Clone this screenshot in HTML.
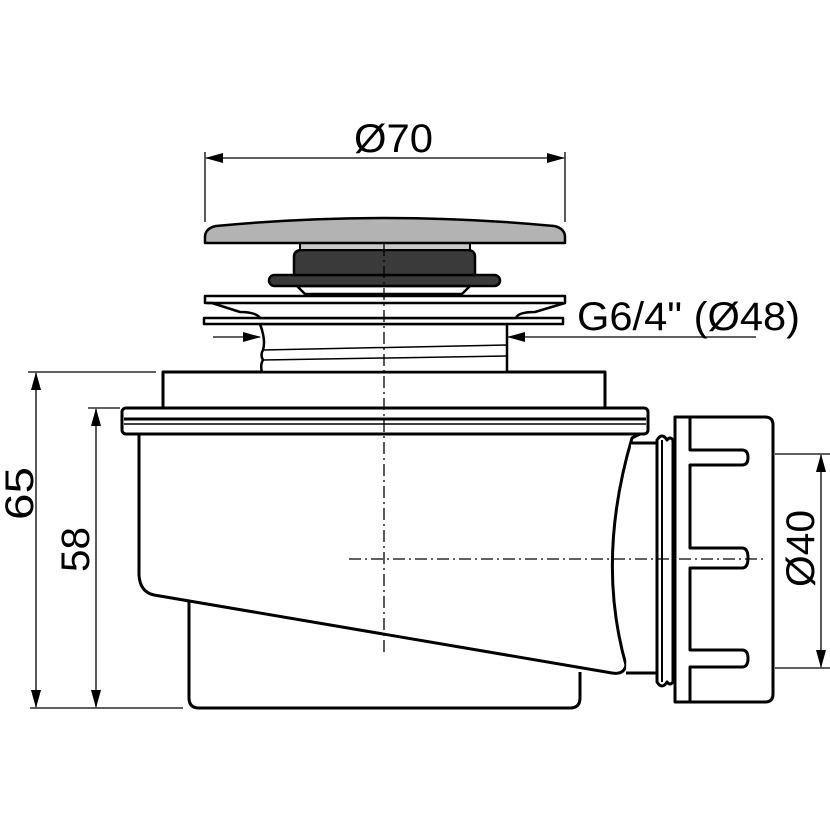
<!DOCTYPE html>
<html><head><meta charset="utf-8"><style>html,body{margin:0;padding:0;background:#fff}svg{display:block}</style></head>
<body>
<svg width="830" height="830" viewBox="0 0 830 830" xmlns="http://www.w3.org/2000/svg">
<defs>
<marker id="a" markerWidth="18" markerHeight="10" refX="17" refY="5" orient="auto" markerUnits="userSpaceOnUse"><path d="M0,0 L18,5 L0,10 Z" fill="#000"/></marker>
<marker id="b" markerWidth="18" markerHeight="10" refX="1" refY="5" orient="auto" markerUnits="userSpaceOnUse"><path d="M18,0 L0,5 L18,10 Z" fill="#000"/></marker>
</defs>
<g font-family="Liberation Sans, sans-serif" font-size="40" fill="#000">
<text x="354" y="152" textLength="79" lengthAdjust="spacingAndGlyphs">Ø70</text>
<text x="577" y="330" textLength="223" lengthAdjust="spacingAndGlyphs">G6/4" (Ø48)</text>
<text transform="translate(33,520) rotate(-90)" textLength="53" lengthAdjust="spacingAndGlyphs">65</text>
<text transform="translate(89,572) rotate(-90)" textLength="45" lengthAdjust="spacingAndGlyphs">58</text>
<text transform="translate(481,500) rotate(-90)" textLength="43" lengthAdjust="spacingAndGlyphs">29</text>
<text transform="translate(814,587) rotate(-90)" textLength="77" lengthAdjust="spacingAndGlyphs">Ø40</text>
</g>
<g stroke="#000" stroke-width="1.3" fill="none">
<!-- Ø70 -->
<line x1="205" y1="152" x2="205" y2="222"/><line x1="565" y1="152" x2="565" y2="222"/>
<line x1="206" y1="158" x2="564" y2="158" marker-start="url(#b)" marker-end="url(#a)"/>
<!-- G6/4 -->
<line x1="213" y1="337" x2="260" y2="337" marker-end="url(#a)"/>
<line x1="756" y1="337" x2="508" y2="337" marker-end="url(#a)"/>
<!-- 65 -->
<line x1="28" y1="372" x2="156" y2="372"/><line x1="30" y1="708" x2="183" y2="708"/>
<line x1="36" y1="373" x2="36" y2="707" marker-start="url(#b)" marker-end="url(#a)"/>
<!-- 58 -->
<line x1="88" y1="408" x2="120" y2="408"/>
<line x1="96" y1="409" x2="96" y2="707" marker-start="url(#b)" marker-end="url(#a)"/>
<!-- 29 -->
<line x1="484" y1="409" x2="484" y2="558" marker-start="url(#b)" marker-end="url(#a)"/>
<!-- Ø40 -->
<line x1="775" y1="454" x2="830" y2="454"/><line x1="775" y1="668" x2="830" y2="668"/>
<line x1="821" y1="455" x2="821" y2="667" marker-start="url(#b)" marker-end="url(#a)"/>
</g>
<!-- body -->
<g stroke="#000" stroke-width="3" fill="#fff" stroke-linejoin="round">
<path d="M189,602 L189,698 Q189,708 199,708 L570,708 Q580,708 580,698 L580,672"/>
<path d="M139,434 L139,575 Q140,592 154,595 L612,673 Q624,675 626,665 Q596,560 632,438 L640,434 Z"/>
<path d="M631,443 L657,443 L657,673 L626,673"/>
<rect x="122" y="408" width="526" height="26" rx="4"/>
<line x1="124" y1="419" x2="646" y2="419"/><line x1="124" y1="424" x2="646" y2="424" stroke-width="1.5"/>
<rect x="163" y="372" width="442" height="36"/>
<!-- o-ring -->
<path d="M657,440 Q662,432 667,440 Q670,436 673,440 L673,682 Q670,686 667,682 Q662,690 657,682 Z"/>
<line x1="662" y1="440" x2="662" y2="682" stroke-width="2"/>
<!-- nut -->
<path d="M675,417 L765,417 Q773,417 773,425 L773,694 Q773,702 765,702 L675,702 Z"/>
<path d="M690,417 L690,450 L742,450 Q748,450 748,457.5 Q748,465 742,465 L690,465 L690,548 L742,548 Q748,548 748,558 Q748,568 742,568 L690,568 L690,650 L742,650 Q748,650 748,658.5 Q748,667 742,667 L690,667 L690,702"/>
<!-- thread -->
<path d="M260,324 Q266,340 263,350 Q260,355 263,360 Q260,365 262,372 L507,372 L507,324 Z" stroke-width="2.5"/>
<line x1="263" y1="350" x2="507" y2="345" stroke-width="1.5"/>
<line x1="263" y1="360" x2="507" y2="356" stroke-width="1.5"/>
<!-- plates -->
<rect x="204" y="318" width="359" height="6" stroke-width="2.5"/>
<path d="M205,296 L565,296 L565,303 L535,312 Q518,312 516,318 L260,318 Q256,312 240,312 L212,303 L205,303 Z" stroke-width="2.5"/>
<line x1="207" y1="303" x2="563" y2="303" stroke-width="2.5"/>
<!-- cap parts -->
<path d="M297,286 L470,286 L462,294 L305,294 Z" stroke-width="2.5"/>
<rect x="269" y="275" width="231" height="11" rx="5.5" fill="#3a3a3a" stroke-width="2.5"/>
<path d="M294,275 L294,257 Q294,250 302,250 L467,250 Q475,250 475,257 L475,275 Z" fill="#3a3a3a" stroke-width="2.5"/>
<rect x="300" y="243" width="170" height="7" fill="#c8c8c8" stroke-width="2"/>
<path d="M205,243 L205,236 Q206,228 216,226 Q385,210 554,226 Q564,228 565,236 L565,243 Z" fill="#b3b3b3" stroke-width="2.5"/>
</g>
<!-- centerlines -->
<g stroke="#000" stroke-width="1.3" stroke-dasharray="12,4,2,4" fill="none">
<line x1="384" y1="244" x2="384" y2="655"/>
<line x1="349" y1="559" x2="765" y2="559"/>
</g>
</svg>
</body></html>
